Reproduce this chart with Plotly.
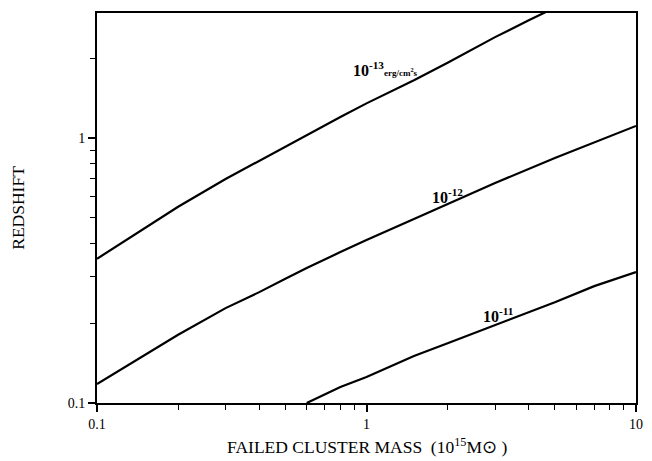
import plotly.graph_objects as go
import math

# Curves: redshift vs failed cluster mass for three flux limits
mass_13 = [0.1, 0.2, 0.3, 0.4, 0.5, 0.6, 0.8, 1, 1.5, 2, 3, 4, 5]
z_13 = [0.35, 0.55, 0.70, 0.82, 0.93, 1.03, 1.2, 1.35, 1.65, 1.92, 2.4, 2.78, 3.1]

mass_12 = [0.1, 0.2, 0.3, 0.4, 0.5, 0.6, 0.8, 1, 1.5, 2, 3, 5, 7, 10]
z_12 = [0.118, 0.181, 0.228, 0.262, 0.294, 0.323, 0.371, 0.412, 0.494, 0.563, 0.676, 0.84, 0.96, 1.11]

mass_11 = [0.6, 0.8, 1, 1.5, 2, 3, 5, 7, 10]
z_11 = [0.1, 0.1149, 0.1254, 0.1504, 0.168, 0.197, 0.240, 0.276, 0.312]

x_major = [0.1, 1, 10]
x_major_text = ["0.1", "1", "10"]
x_minor = [0.2, 0.3, 0.4, 0.5, 0.6, 0.7, 0.8, 0.9, 2, 3, 4, 5, 6, 7, 8, 9]
y_major = [0.1, 1]
y_major_text = ["0.1", "1"]
y_minor = [0.2, 0.3, 0.4, 0.5, 0.6, 0.7, 0.8, 0.9, 2, 3]

FONT = "Liberation Serif"

fig = go.Figure()
for xs, ys in [(mass_13, z_13), (mass_12, z_12), (mass_11, z_11)]:
    fig.add_trace(go.Scatter(x=xs, y=ys, mode="lines",
                             line=dict(color="black", width=2.2),
                             showlegend=False, cliponaxis=True))

axis_common = dict(type="log", showgrid=False, zeroline=False,
                   showline=True, linecolor="black", linewidth=2, mirror=True,
                   ticks="outside", ticklen=7, tickwidth=1.5, tickcolor="black",
                   ticklabeloverflow="allow",
                   tickfont=dict(family=FONT, size=14, color="black"))

fig.update_xaxes(**axis_common, range=[-1, 1], tickmode="array",
                 tickvals=x_major, ticktext=x_major_text,
                 minor=dict(tickmode="array", tickvals=x_minor, ticks="outside",
                            ticklen=5, tickwidth=1, tickcolor="black", showgrid=False))
fig.update_yaxes(**axis_common, range=[-1, math.log10(2.96)], tickmode="array",
                 tickvals=y_major, ticktext=y_major_text,
                 minor=dict(tickmode="array", tickvals=y_minor, ticks="outside",
                            ticklen=5, tickwidth=1, tickcolor="black", showgrid=False))

annots = [
    dict(x=-0.058, y=0.213,
         text="<b>10<sup>-13</sup></b><span style='font-size:9px'><b>erg/cm<sup>2</sup>s</b></span>"),
    dict(x=0.235, y=-0.264, text="<b>10<sup>-12</sup></b>"),
    dict(x=0.425, y=-0.715, text="<b>10<sup>-11</sup></b>"),
]
for a in annots:
    fig.add_annotation(xref="x", yref="y", showarrow=False,
                       xanchor="left", yanchor="bottom",
                       font=dict(family=FONT, size=16, color="black"), **a)

fig.add_annotation(xref="paper", yref="paper", x=0.5, y=-0.11, showarrow=False,
                   xanchor="center", yanchor="middle",
                   text="FAILED CLUSTER MASS  (10<sup>15</sup>M\u2299 )",
                   font=dict(family=FONT, size=17.5, color="black"))
fig.add_annotation(xref="paper", yref="paper", x=-0.147, y=0.5, showarrow=False,
                   xanchor="center", yanchor="middle", textangle=-90,
                   text="REDSHIFT",
                   font=dict(family=FONT, size=17.5, color="black"))

fig.update_layout(width=652, height=461,
                  margin=dict(l=97, r=9, t=13, b=58),
                  paper_bgcolor="white", plot_bgcolor="white",
                  font=dict(family=FONT, color="black"))

# remove the default page margin so the figure fills the window exactly
fig.write_html("out.html",
               config={"displayModeBar": False},
               post_script="document.body.style.margin='0';document.body.style.overflow='hidden';")
